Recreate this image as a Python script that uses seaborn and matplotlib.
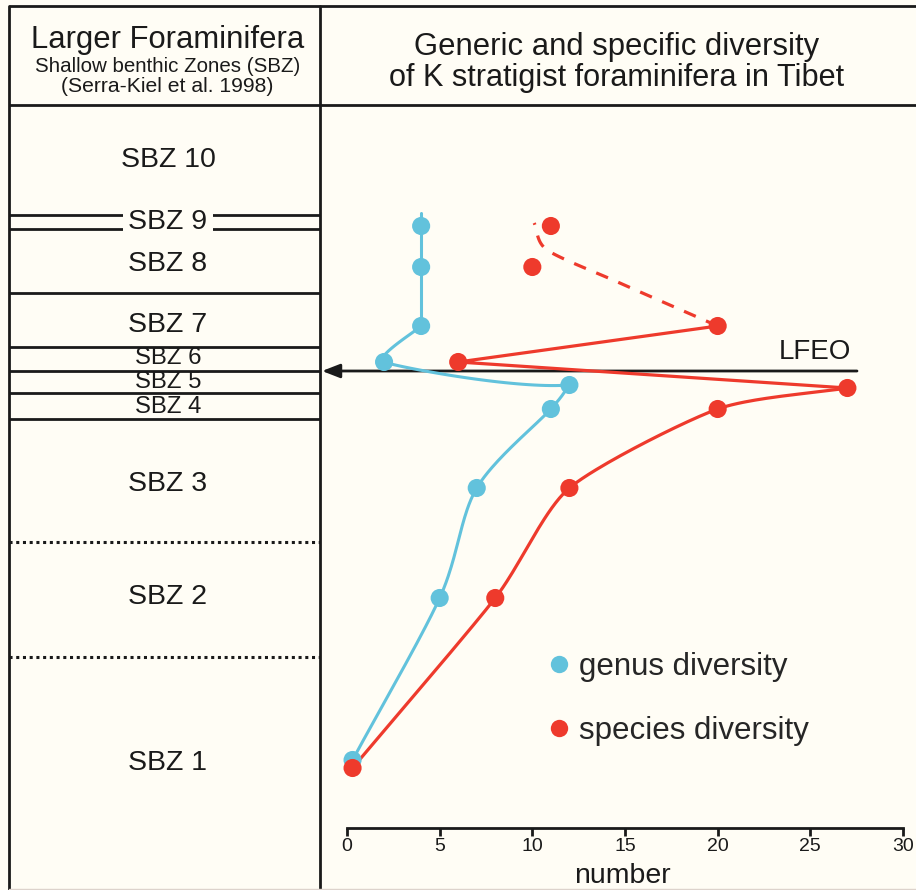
import numpy as np
import matplotlib
matplotlib.use("Agg")
import matplotlib.pyplot as plt
import seaborn as sns
from matplotlib.lines import Line2D

# ---- Stratigraphic column: shallow benthic zones (vertical position in depth units, top = 0)
zone_names = ["SBZ 10", "SBZ 9", "SBZ 8", "SBZ 7", "SBZ 6", "SBZ 5", "SBZ 4", "SBZ 3", "SBZ 2", "SBZ 1"]
zone_top = [105, 215, 229, 293, 347, 371, 393, 419, 542, 657]
zone_bottom = [215, 229, 293, 347, 371, 393, 419, 542, 657, 888]
zone_label_level = [160, 222, 264, 325, 358, 382, 407, 484, 597, 763]
dotted_boundaries = [542, 657]
lfeo_level = 371

# ---- Diversity of K-strategist foraminifera per zone (SBZ 1 .. SBZ 9)
sample_zone = ["SBZ 1", "SBZ 2", "SBZ 3", "SBZ 4", "SBZ 5", "SBZ 6", "SBZ 7", "SBZ 8", "SBZ 9"]
genus_diversity = [0.3, 5, 7, 11, 12, 2, 4, 4, 4]
species_diversity = [0.3, 8, 12, 20, 27, 6, 20, 10, 11]
genus_level = [760, 598, 488, 409, 385, 362, 326, 267, 226]
species_level = [768, 598, 488, 409, 388, 362, 326, 267, 226]

# dashed trend of species diversity above SBZ 7
species_trend_x = [20, 14.6, 10.8, 10.1]
species_trend_level = [326, 282, 250, 223]

x_ticks = [0, 5, 10, 15, 20, 25, 30]

BLUE = "#62c2dc"
RED = "#ee3a2c"
INK = "#1a1a1a"
PAPER = "#fffdf5"

sns.set_theme(style="white")
plt.rcParams["font.family"] = ["Liberation Sans", "DejaVu Sans"]

W, H = 916, 890
fig = plt.figure(figsize=(W / 100, H / 100), dpi=100, facecolor=PAPER)

# frame axes in layout units
axf = fig.add_axes([0, 0, 1, 1])
axf.set_xlim(0, W)
axf.set_ylim(H, 0)
axf.axis("off")
axf.set_facecolor(PAPER)

LEFT, DIV, TOP, HEAD, BOT = 9, 320, 6, 105, 888
lw = 2.0
axf.plot([LEFT, W], [TOP, TOP], color=INK, lw=lw, solid_capstyle="butt")
axf.plot([LEFT, W], [HEAD, HEAD], color=INK, lw=lw, solid_capstyle="butt")
axf.plot([LEFT, LEFT], [TOP, BOT + 2], color=INK, lw=lw)
axf.plot([DIV, DIV], [TOP, BOT + 2], color=INK, lw=lw)
axf.plot([LEFT, W], [BOT + 1, BOT + 1], color="#ddd3cc", lw=1.0)

# header texts
col_c = (LEFT + DIV) / 2 + 3
axf.text(col_c, 40, "Larger Foraminifera", ha="center", va="center", fontsize=22.3, color=INK)
axf.text(col_c, 66, "Shallow benthic Zones (SBZ)", ha="center", va="center", fontsize=14.8, color=INK)
axf.text(col_c, 87, "(Serra-Kiel et al. 1998)", ha="center", va="center", fontsize=15.2, color=INK)
axf.text(617, 47, "Generic and specific diversity", ha="center", va="center", fontsize=22.3, color=INK)
axf.text(617, 78, "of K stratigist foraminifera in Tibet", ha="center", va="center", fontsize=22.1, color=INK)

# zone boundaries and labels
boundaries = sorted(set(zone_top[1:]) | set(zone_bottom[:-1]))
for b in boundaries:
    ls = (0, (1, 1.2)) if b in dotted_boundaries else "-"
    axf.plot([LEFT, DIV], [b, b], color=INK, lw=lw if ls == "-" else 2.2, ls=ls, solid_capstyle="butt")

for name, t, bt, lv in zip(zone_names, zone_top, zone_bottom, zone_label_level):
    thick = bt - t
    size = 20.5 if thick > 40 or name == "SBZ 9" else 17.2
    txt = axf.text(168, lv, name, ha="center", va="center", fontsize=size, color=INK, zorder=5)
    if name == "SBZ 9":
        txt.set_bbox(dict(facecolor=PAPER, edgecolor="none", pad=4))

# LFEO arrow
axf.annotate("", xy=(DIV + 2, lfeo_level), xytext=(857, lfeo_level),
             arrowprops=dict(arrowstyle="-|>,head_length=0.9,head_width=0.35", color=INK, lw=2,
                             shrinkA=0, shrinkB=0), zorder=6)
axf.text(815, 352, "LFEO", ha="center", va="center", fontsize=20, color=INK)

# ---- diversity panel
x0_px, x30_px = 347, 903
ppu = (x30_px - x0_px) / 30.0
ax = fig.add_axes([DIV / W, 0, (W - DIV) / W, 1])
ax.set_facecolor("none")
ax.set_xlim((DIV - x0_px) / ppu, (W - x0_px) / ppu)
ax.set_ylim(H, 0)


def smooth(xs, ys, tension=0.0, start_dir=None, n=40):
    """Cardinal spline through the points, evaluated in isotropic space.
    start_dir optionally fixes the unit direction of the curve at its first point."""
    P = np.column_stack([np.asarray(xs, float) * ppu, np.asarray(ys, float)])
    m = np.zeros_like(P)
    m[1:-1] = (P[2:] - P[:-2]) / 2
    m[0] = P[1] - P[0]
    m[-1] = P[-1] - P[-2]
    m *= (1 - tension)
    if start_dir is not None:
        d = np.asarray(start_dir, float)
        m[0] = d / np.hypot(*d) * np.hypot(*(P[1] - P[0])) * 0.9
    t = np.linspace(0, 1, n)[:, None]
    h00, h10 = 2 * t ** 3 - 3 * t ** 2 + 1, t ** 3 - 2 * t ** 2 + t
    h01, h11 = -2 * t ** 3 + 3 * t ** 2, t ** 3 - t ** 2
    parts = []
    for i in range(len(P) - 1):
        seg = h00 * P[i] + h10 * m[i] + h01 * P[i + 1] + h11 * m[i + 1]
        parts.append(seg if i == 0 else seg[1:])
    c = np.vstack(parts)
    return c[:, 0] / ppu, c[:, 1]


# genus curve: smooth rise to SBZ 5, swing back through SBZ 6, then straight up
top_sbz9 = zone_top[zone_names.index("SBZ 9")] - 2
gx, gy = smooth(genus_diversity[:5], genus_level[:5], tension=0.1)
ax.plot(gx, gy, color=BLUE, lw=2.2, zorder=3)
gx, gy = smooth(genus_diversity[4:7], genus_level[4:7], tension=0.55, start_dir=(-1, 0.08))
ax.plot(gx, gy, color=BLUE, lw=2.2, zorder=3)
ax.plot(genus_diversity[6:] + [genus_diversity[-1]], genus_level[6:] + [top_sbz9],
        color=BLUE, lw=2.2, zorder=3)

# species curve
sx, sy = smooth(species_diversity[:5], species_level[:5], tension=0.3)
ax.plot(sx, sy, color=RED, lw=2.3, zorder=3)
ax.plot(species_diversity[4:7], species_level[4:7], color=RED, lw=2.3, zorder=3)
tx, ty = smooth(species_trend_x, species_trend_level, tension=0.2)
ax.plot(tx, ty, color=RED, lw=2.3, ls=(0, (4, 3.5)), zorder=3)

sns.scatterplot(x=genus_diversity, y=genus_level, ax=ax, color=BLUE, s=170,
                edgecolor="none", zorder=4, legend=False)
sns.scatterplot(x=species_diversity, y=species_level, ax=ax, color=RED, s=170,
                edgecolor="none", zorder=4, legend=False)

# number axis drawn inside the panel
for side in ["top", "left", "right"]:
    ax.spines[side].set_visible(False)
ax.spines["bottom"].set_position(("data", 828))
ax.spines["bottom"].set_bounds(0, 30)
ax.spines["bottom"].set_color(INK)
ax.spines["bottom"].set_linewidth(2)
ax.set_xticks(x_ticks)
ax.set_xticklabels([str(v) for v in x_ticks])
ax.tick_params(axis="x", direction="out", length=6, width=2, color=INK,
               labelsize=14, labelcolor=INK, pad=1.5, bottom=True)
ax.set_yticks([])
ax.set_xlabel("number", fontsize=20.5, color=INK, va="bottom")
ax.xaxis.set_label_coords((622 - DIV) / (W - DIV), 1 - 889 / H)
ax.set_ylabel("")

handles = [Line2D([], [], marker="o", ls="", color=BLUE, markersize=12.5, markeredgewidth=0,
                  label="genus diversity"),
           Line2D([], [], marker="o", ls="", color=RED, markersize=12.5, markeredgewidth=0,
                  label="species diversity")]
fig.legend(handles=handles, loc="upper left", bbox_to_anchor=(546 / W, 1 - 652 / H),
           frameon=False, fontsize=22.5, handlelength=0.8, handletextpad=0.25,
           labelspacing=1.08, borderpad=0, borderaxespad=0)

fig.savefig("out.png", dpi=100, facecolor=PAPER)
